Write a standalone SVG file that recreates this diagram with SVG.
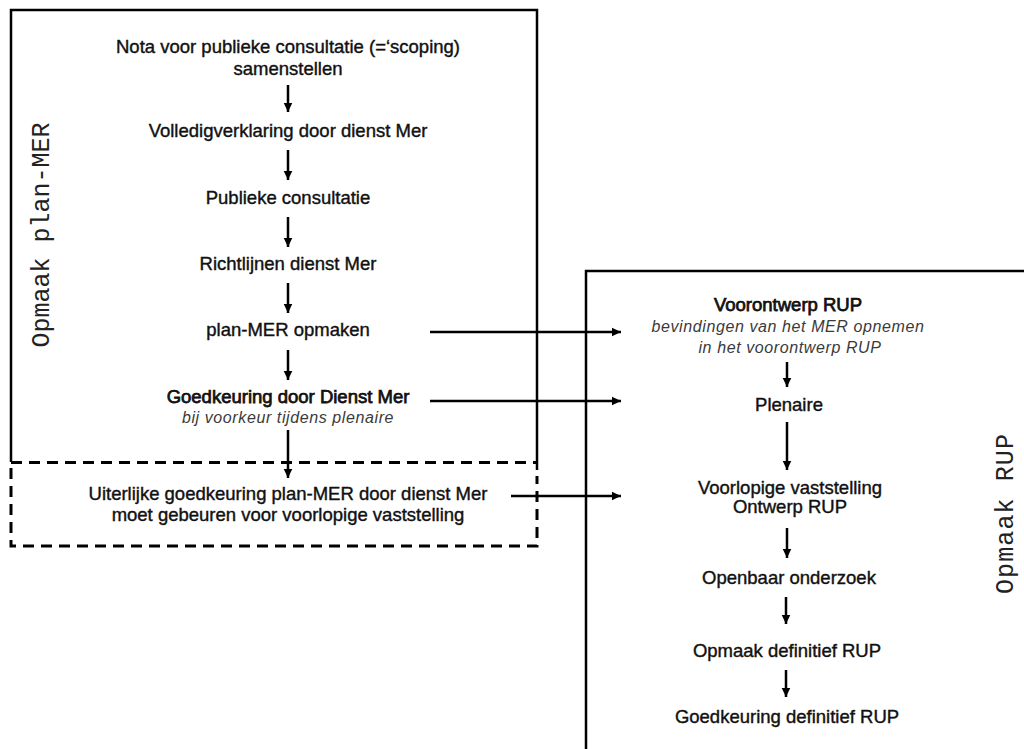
<svg xmlns="http://www.w3.org/2000/svg" width="1024" height="749" viewBox="0 0 1024 749">
<defs>
<marker id="ah" markerUnits="userSpaceOnUse" markerWidth="10" markerHeight="10" refX="9.5" refY="5" orient="auto">
<path d="M0,0.5 L9.5,5 L0,9.5 z" fill="#000"/>
</marker>
<style>
.t{font-family:"Liberation Sans",Arial,sans-serif;font-size:18.5px;fill:#111;stroke:#111;stroke-width:0.4;text-anchor:middle}
.b{stroke-width:0.75}
.i{font-family:"Liberation Sans",Arial,sans-serif;font-size:16px;font-style:italic;fill:#3a3a3a;letter-spacing:0.6px;text-anchor:middle}
.lab{font-family:"Liberation Mono","Courier New",monospace;font-size:25px;fill:#222;text-anchor:middle}
.box{fill:none;stroke:#000;stroke-width:2.5}
.dash{fill:none;stroke:#000;stroke-width:3;stroke-dasharray:11 7}
.c{stroke:#000;stroke-width:2.5;fill:none;marker-end:url(#ah)}
</style>
</defs>
<rect width="1024" height="749" fill="#fff"/>

<g id="frame-plan-mer">
<path class="box" d="M11,462 L11,10 L537,10 L537,470"/>
<text class="lab" transform="translate(49,235) rotate(-90)" textLength="225" lengthAdjust="spacing">Opmaak plan-MER</text>
</g>
<g id="frame-uiterlijk">
<path class="dash" d="M11,462.5 L537,462.5"/>
<path class="dash" d="M11,468 L11,546 L537,546 L537,476"/>
</g>
<g id="frame-rup">
<path class="box" d="M586,749 L586,271 L1026,271"/>
<text class="lab" transform="translate(1013,514) rotate(-90)" font-size="26" textLength="160" lengthAdjust="spacing">Opmaak RUP</text>
</g>

<g id="connectors">
<line class="c" x1="288" y1="85" x2="288" y2="112"/>
<line class="c" x1="288" y1="150" x2="288" y2="180"/>
<line class="c" x1="288" y1="217" x2="288" y2="247"/>
<line class="c" x1="288" y1="283" x2="288" y2="313"/>
<line class="c" x1="288" y1="350" x2="288" y2="380"/>
<line class="c" x1="288" y1="430" x2="288" y2="478"/>
<line class="c" x1="430" y1="332" x2="621" y2="332"/>
<line class="c" x1="430" y1="401" x2="621" y2="401"/>
<line class="c" x1="511" y1="496" x2="621" y2="496"/>
<line class="c" x1="787" y1="362" x2="787" y2="387"/>
<line class="c" x1="787" y1="422" x2="787" y2="470"/>
<line class="c" x1="787" y1="528" x2="787" y2="558"/>
<line class="c" x1="786" y1="597" x2="786" y2="624"/>
<line class="c" x1="786" y1="670" x2="786" y2="697"/>
</g>

<g id="n-nota"><text class="t" x="288" y="53">Nota voor publieke consultatie (=‘scoping)</text><text class="t" x="288" y="75">samenstellen</text></g>
<g id="n-volledig"><text class="t" x="288" y="137">Volledigverklaring door dienst Mer</text></g>
<g id="n-publieke"><text class="t" x="288" y="204">Publieke consultatie</text></g>
<g id="n-richtlijnen"><text class="t" x="288" y="270">Richtlijnen dienst Mer</text></g>
<g id="n-planmer"><text class="t" x="288" y="336">plan-MER opmaken</text></g>
<g id="n-goedkeuring"><text class="t b" x="288" y="403">Goedkeuring door Dienst Mer</text><text class="i" x="288" y="423">bij voorkeur tijdens plenaire</text></g>
<g id="n-uiterlijk"><text class="t" x="288" y="500">Uiterlijke goedkeuring plan-MER door dienst Mer</text><text class="t" x="288" y="521">moet gebeuren voor voorlopige vaststelling</text></g>

<g id="n-voorontwerp"><text class="t b" x="788" y="311">Voorontwerp RUP</text><text class="i" x="788" y="332">bevindingen van het MER opnemen</text><text class="i" x="790" y="353">in het voorontwerp RUP</text></g>
<g id="n-plenaire"><text class="t" x="789" y="411">Plenaire</text></g>
<g id="n-voorlopig"><text class="t" x="790" y="494">Voorlopige vaststelling</text><text class="t" x="790" y="513">Ontwerp RUP</text></g>
<g id="n-openbaar"><text class="t" x="789" y="584">Openbaar onderzoek</text></g>
<g id="n-opmaakdef"><text class="t" x="787" y="657">Opmaak definitief RUP</text></g>
<g id="n-goedkdef"><text class="t" x="787" y="723">Goedkeuring definitief RUP</text></g>
</svg>
